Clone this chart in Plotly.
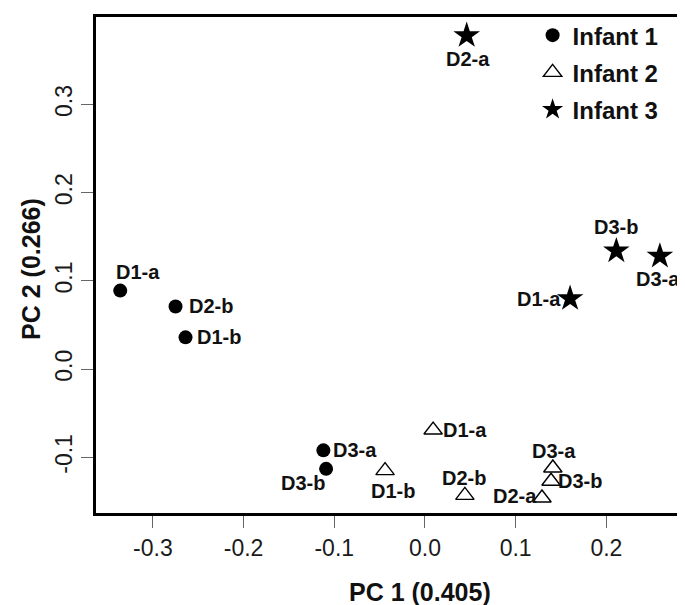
import plotly.graph_objects as go

# ---- data ----
infant1_labels = ["D1-a", "D2-b", "D1-b", "D3-a", "D3-b"]
infant1_pc1 = [-0.336, -0.275, -0.264, -0.112, -0.109]
infant1_pc2 = [0.089, 0.071, 0.036, -0.092, -0.113]

infant2_labels = ["D1-a", "D1-b", "D2-b", "D2-a", "D3-b", "D3-a"]
infant2_pc1 = [0.009, -0.044, 0.044, 0.129, 0.139, 0.141]
infant2_pc2 = [-0.069, -0.115, -0.143, -0.146, -0.127, -0.112]

infant3_labels = ["D2-a", "D3-b", "D3-a", "D1-a"]
infant3_pc1 = [0.046, 0.211, 0.259, 0.160]
infant3_pc2 = [0.378, 0.134, 0.128, 0.080]

x_ticks = [-0.3, -0.2, -0.1, 0.0, 0.1, 0.2]
y_ticks = [-0.1, 0.0, 0.1, 0.2, 0.3]

# label pixel offsets (style): (dx, dy) with dy positive = up
off1 = [(18, 19), (35, 0), (33, 0), (32, 0), (-23, -14)]
off2 = [(32, 0), (8, -20), (-1, 17), (-27, 2), (29, 0), (1, 17)]
off3 = [(1, -23), (0, 24), (-2, -23), (-31, 0)]

FONT = "Liberation Sans, Arial, sans-serif"
lab_font = dict(family=FONT, size=20, color="#111111", weight="bold")

fig = go.Figure()
fig.add_trace(go.Scatter(
    x=infant1_pc1, y=infant1_pc2, mode="markers", name="Infant 1",
    marker=dict(symbol="circle", size=14, color="black"),
    legendgroup="a"))
fig.add_trace(go.Scatter(
    x=infant2_pc1, y=infant2_pc2, mode="markers", name="Infant 2",
    marker=dict(symbol="triangle-up-open", size=16, color="black",
                line=dict(width=1.4, color="black")),
    legendgroup="b"))
fig.add_trace(go.Scatter(
    x=infant3_pc1, y=infant3_pc2, mode="markers", name="Infant 3",
    marker=dict(symbol="star", size=20, color="black"),
    legendgroup="c"))

annotations = []
for labels, xs, ys, offs in [
    (infant1_labels, infant1_pc1, infant1_pc2, off1),
    (infant2_labels, infant2_pc1, infant2_pc2, off2),
    (infant3_labels, infant3_pc1, infant3_pc2, off3),
]:
    for t, x, y, (dx, dy) in zip(labels, xs, ys, offs):
        annotations.append(dict(
            x=x, y=y, xref="x", yref="y", text=t, showarrow=False,
            xshift=dx, yshift=dy, xanchor="center", yanchor="middle",
            font=lab_font))

annotations += [
    dict(text="PC 1 (0.405)", xref="paper", yref="paper",
         x=(412 - 88) / 590, y=-(585 - 505) / 500,
         xanchor="center", yanchor="middle", showarrow=False,
         font=dict(family=FONT, size=25, color="#111111", weight="bold")),
    dict(text="PC 2 (0.266)", xref="paper", yref="paper",
         x=-(88 - 23) / 590, y=(505 - 259) / 500,
         xanchor="center", yanchor="middle", showarrow=False, textangle=-90,
         font=dict(family=FONT, size=25, color="#111111", weight="bold")),
]

fig.update_layout(
    width=685, height=605,
    margin=dict(l=88, r=7, t=5, b=100),
    paper_bgcolor="white", plot_bgcolor="white",
    font=dict(family=FONT, color="#111111"),
    showlegend=True,
    legend=dict(
        x=0.74, y=1.008, xanchor="left", yanchor="top",
        bgcolor="rgba(0,0,0,0)", borderwidth=0,
        font=dict(family=FONT, size=24, color="#111111", weight="bold"),
        tracegroupgap=3, itemsizing="trace",
    ),
    xaxis=dict(
        range=[-0.3627, 0.2878], tickvals=x_ticks,
        ticktext=[f"{v:.1f}" for v in x_ticks],
        showgrid=False, zeroline=False,
        showline=True, linewidth=3, linecolor="black", mirror=True,
        ticks="outside", ticklen=12, tickwidth=1, tickcolor="#666666",
        tickfont=dict(family=FONT, size=23, color="#1a1a1a"),
    ),
    yaxis=dict(
        range=[-0.163, 0.399], tickvals=y_ticks,
        ticktext=[f"{v:.1f}" for v in y_ticks],
        showgrid=False, zeroline=False,
        showline=True, linewidth=3, linecolor="black", mirror=True,
        ticks="outside", ticklen=12, tickwidth=1, tickcolor="#666666",
        tickangle=-90,
        tickfont=dict(family=FONT, size=23, color="#1a1a1a"),
    ),
    annotations=annotations,
)

fig.write_html("out.html")
